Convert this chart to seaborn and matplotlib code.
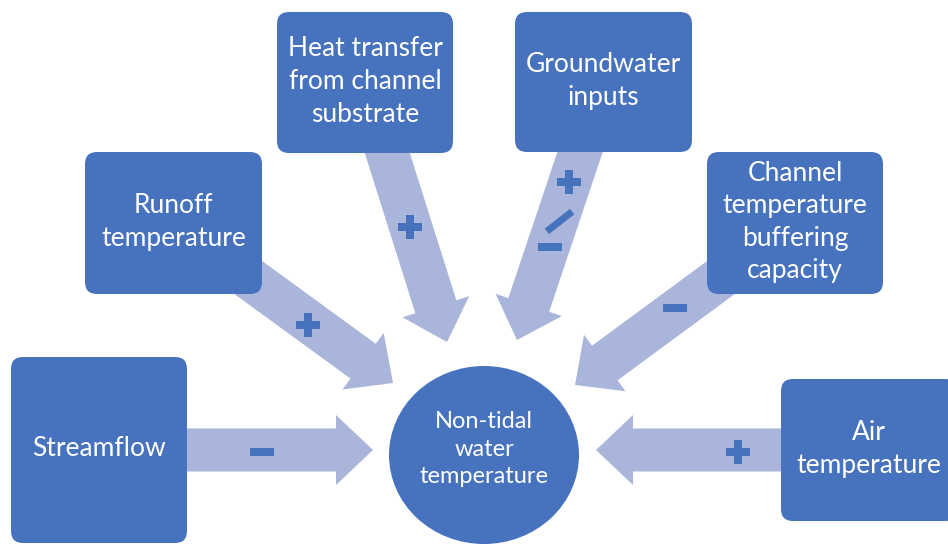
import numpy as np
import pandas as pd
import matplotlib.pyplot as plt
import seaborn as sns
from matplotlib.patches import FancyBboxPatch, Ellipse, FancyArrow
from matplotlib.path import Path

# node labels and the sign of each influence on water temperature
driver_labels = ["Streamflow", "Runoff\ntemperature", "Heat transfer\nfrom channel\nsubstrate",
                 "Groundwater\ninputs", "Channel\ntemperature\nbuffering\ncapacity", "Air\ntemperature"]
driver_signs = ["-", "+", "+", "+/-", "-", "+"]
center_label = "Non-tidal\nwater\ntemperature"

# layout in pixels (x0, y0, x1, y1), y grows downwards
boxes = [(11, 357, 187, 543), (85, 152, 262, 294), (277, 12, 453, 153),
         (515, 12, 692, 152), (707, 152, 883, 294), (781, 379, 957, 521)]
arrow_tips = [(373, 450), (393, 383), (447, 342), (517, 340), (575, 385), (596, 450)]
sign_xy = [[(262, 452)], [(308, 325)], [(410, 227)],
           [(569, 182), (550, 247)], [(675, 308)], [(738, 452)]]
slash_xy = (559, 221)
circle_c, circle_w, circle_h = (484, 455), 190, 178

box_blue = "#4672BE"
arrow_blue = "#A9B5DA"

sns.set_theme(style="white")
plt.rcParams["font.family"] = ["Lato", "DejaVu Sans"]

fig = plt.figure(figsize=(9.48, 5.46), dpi=100)
ax = fig.add_axes([0, 0, 1, 1])
ax.set_xlim(0, 948)
ax.set_ylim(546, 0)
ax.set_aspect("equal")
ax.axis("off")

for (x0, y0, x1, y1), tip, label in zip(boxes, arrow_tips, driver_labels):
    cx, cy = (x0 + x1) / 2, (y0 + y1) / 2
    ax.add_patch(FancyArrow(cx, cy, tip[0] - cx, tip[1] - cy, width=43, head_width=70,
                            head_length=37, length_includes_head=True,
                            color=arrow_blue, lw=0, zorder=1))
    ax.add_patch(FancyBboxPatch((x0, y0), x1 - x0, y1 - y0,
                                boxstyle="round,pad=0,rounding_size=12",
                                fc=box_blue, ec="none", zorder=2))
    ax.text(cx, cy - 1, label, color="white", fontsize=19, ha="center", va="center",
            linespacing=1.38, zorder=3)

ax.add_patch(Ellipse(circle_c, circle_w, circle_h, fc=box_blue, ec="none", zorder=2))
ax.text(circle_c[0], circle_c[1] - 6, center_label, color="white", fontsize=17,
        ha="center", va="center", linespacing=1.36, zorder=3)

# sign glyphs
minus = Path([(-1.5, -0.5), (1.5, -0.5), (1.5, 0.5), (-1.5, 0.5), (-1.5, -0.5)], closed=True)
a = np.deg2rad(38)
rot = np.array([[np.cos(a), -np.sin(a)], [np.sin(a), np.cos(a)]])
bar = np.array([(-16, -3.5), (16, -3.5), (16, 3.5), (-16, 3.5), (-16, -3.5)]) @ rot.T
slash = Path(bar, closed=True)

rows = []
for pts, sign in zip(sign_xy, driver_signs):
    kinds = ["+", "-"] if sign == "+/-" else [sign]
    for (x, y), k in zip(pts, kinds):
        rows.append({"x": x, "y": y, "sign": k})
df = pd.DataFrame(rows)

sns.scatterplot(data=df, x="x", y="y", style="sign", markers={"+": "P", "-": minus},
                s=300, color=box_blue, linewidth=0, legend=False, ax=ax, zorder=4)
sns.scatterplot(x=[slash_xy[0]], y=[slash_xy[1]], marker=slash, s=452,
                color=box_blue, linewidth=0, legend=False, ax=ax, zorder=4)
ax.set_xlabel("")
ax.set_ylabel("")
ax.axis("off")

fig.savefig("out.png", dpi=100, facecolor="white")
